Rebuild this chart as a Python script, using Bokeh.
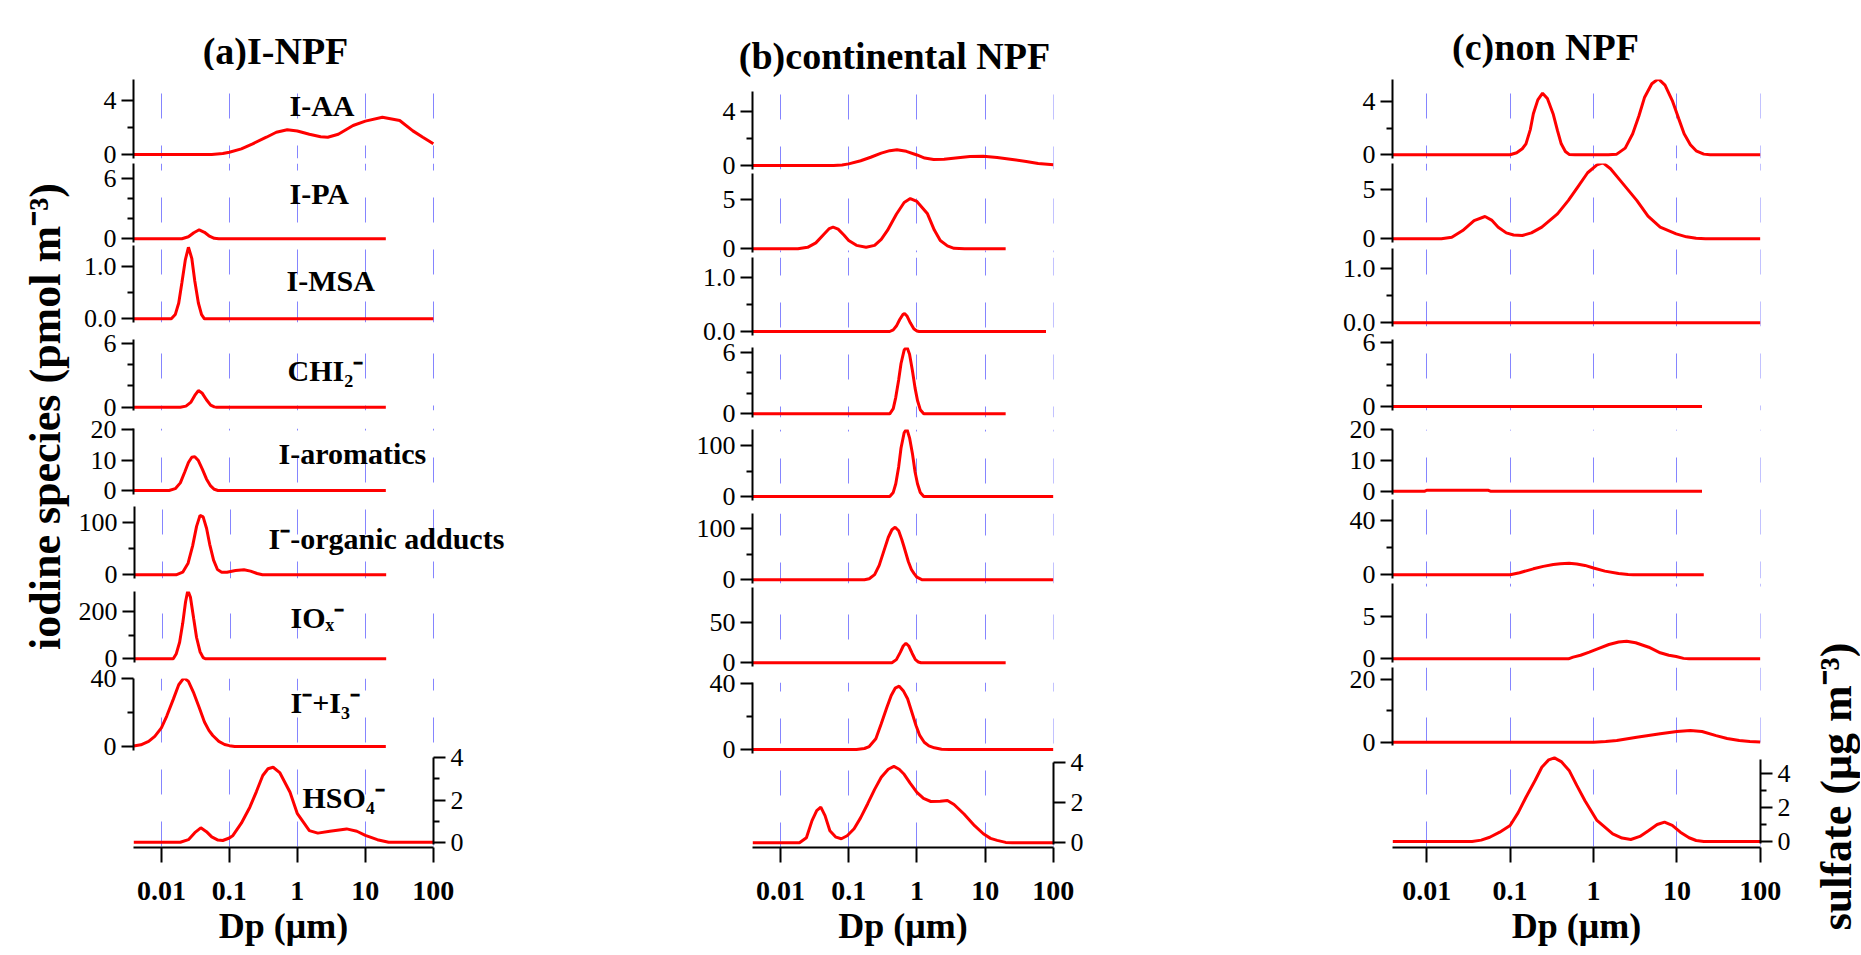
import math
from bokeh.plotting import figure
from bokeh.models import Range1d, LinearAxis, LogAxis, FixedTicker, Grid, Label
from bokeh.layouts import column, row
from bokeh.embed import file_html
from bokeh.resources import INLINE

# ------------------------------------------------------------------ data
column_titles = ["(a)I-NPF", "(b)continental NPF", "(c)non NPF"]
species = ["I-AA", "I-PA", "I-MSA", "CHI₂⁻", "I-aromatics",
           "I⁻-organic adducts", "IOₓ⁻", "I⁻+I₃⁻", "HSO₄⁻"]
x_ticks = [0.01, 0.1, 1, 10, 100]
x_tick_labels = ["0.01", "0.1", "1", "10", "100"]
x_label = "Dp (μm)"
y_label_left = "iodine species (pmol m⁻³)"
y_label_right = "sulfate (μg m⁻³)"

# (a) I-NPF
a_iaa_dp = [0.0039, 0.055, 0.08, 0.1, 0.15, 0.22, 0.35, 0.49, 0.71, 1.0, 1.5, 2.2, 2.8, 4.0, 6.6, 10, 17.8, 32, 50, 70, 100]
a_iaa_v = [0, 0, 0.07, 0.17, 0.42, 0.79, 1.28, 1.65, 1.83, 1.74, 1.5, 1.32, 1.28, 1.5, 2.15, 2.47, 2.76, 2.52, 1.75, 1.28, 0.79]
a_ipa_dp = [0.0039, 0.02, 0.025, 0.03, 0.036, 0.043, 0.05, 0.06, 0.07, 20]
a_ipa_v = [0, 0, 0.2, 0.6, 0.9, 0.65, 0.3, 0.05, 0, 0]
a_imsa_dp = [0.0039, 0.014, 0.016, 0.018, 0.02, 0.0225, 0.025, 0.028, 0.031, 0.035, 0.039, 0.043, 100]
a_imsa_v = [0, 0, 0.08, 0.3, 0.68, 1.12, 1.36, 1.15, 0.72, 0.3, 0.08, 0, 0]
a_chi2_dp = [0.0039, 0.019, 0.023, 0.027, 0.031, 0.035, 0.04, 0.046, 0.053, 0.06, 0.065, 20]
a_chi2_v = [0, 0, 0.1, 0.45, 1.1, 1.56, 1.3, 0.7, 0.2, 0.03, 0, 0]
a_arom_dp = [0.0039, 0.013, 0.016, 0.019, 0.022, 0.025, 0.028, 0.031, 0.035, 0.04, 0.046, 0.053, 0.06, 0.068, 20]
a_arom_v = [0, 0, 0.6, 2.5, 6, 9.2, 10.9, 11.1, 9.8, 7, 3.8, 1.5, 0.4, 0, 0]
a_add_dp = [0.0039, 0.016, 0.02, 0.024, 0.028, 0.032, 0.036, 0.04, 0.045, 0.05, 0.057, 0.065, 0.075, 0.09, 0.12, 0.16, 0.2, 0.25, 0.3, 20]
a_add_v = [0, 0, 5, 22, 55, 92, 113, 110, 88, 58, 28, 10, 5, 5, 8, 9.5, 7, 2.5, 0, 0]
a_iox_dp = [0.0039, 0.0145, 0.016, 0.018, 0.02, 0.022, 0.0238, 0.026, 0.029, 0.032, 0.036, 0.04, 0.043, 20]
a_iox_v = [0, 0, 20, 70, 150, 240, 289, 260, 170, 90, 30, 5, 0, 0]
a_ii3_dp = [0.0039, 0.005, 0.0065, 0.008, 0.01, 0.012, 0.015, 0.018, 0.0215, 0.025, 0.03, 0.036, 0.043, 0.05, 0.057, 0.07, 0.085, 0.1, 0.12, 20]
a_ii3_v = [0.3, 1, 3, 6, 11, 18, 28, 36.5, 40.6, 38.5, 31.5, 23, 14.5, 9.5, 6.5, 3, 1.2, 0.5, 0, 0]
a_hso4_dp = [0.0039, 0.019, 0.025, 0.031, 0.038, 0.046, 0.055, 0.068, 0.08, 0.1, 0.113, 0.15, 0.2, 0.25, 0.31, 0.37, 0.44, 0.55, 0.78, 1.0, 1.5, 2.0, 3.0, 5.3, 7.5, 10, 15, 22, 100]
a_hso4_v = [0, 0, 0.12, 0.45, 0.68, 0.5, 0.25, 0.1, 0.08, 0.2, 0.32, 0.9, 1.66, 2.4, 3.16, 3.48, 3.55, 3.3, 2.37, 1.35, 0.55, 0.43, 0.52, 0.63, 0.52, 0.32, 0.12, 0, 0]

# (b) continental NPF
b_iaa_dp = [0.0039, 0.06, 0.08, 0.1, 0.15, 0.21, 0.3, 0.4, 0.51, 0.7, 1.0, 1.3, 1.76, 2.5, 4, 6, 9.4, 15, 25, 40, 60, 100]
b_iaa_v = [0, 0, 0.04, 0.12, 0.35, 0.61, 0.92, 1.1, 1.16, 1.05, 0.78, 0.55, 0.44, 0.46, 0.58, 0.66, 0.69, 0.6, 0.45, 0.3, 0.15, 0.05]
b_ipa_dp = [0.0039, 0.018, 0.025, 0.033, 0.043, 0.052, 0.059, 0.07, 0.085, 0.1, 0.13, 0.18, 0.24, 0.3, 0.37, 0.5, 0.65, 0.8, 1.0, 1.43, 1.8, 2.2, 2.8, 3.5, 5, 20]
b_ipa_v = [0, 0, 0.15, 0.6, 1.45, 2.05, 2.2, 2.0, 1.4, 0.85, 0.35, 0.16, 0.35, 0.95, 1.86, 3.5, 4.7, 5.1, 4.8, 3.55, 1.9, 0.84, 0.3, 0.05, 0, 0]
b_imsa_dp = [0.0039, 0.4, 0.45, 0.5, 0.56, 0.62, 0.66, 0.72, 0.8, 0.9, 1.0, 1.08, 78]
b_imsa_v = [0, 0, 0.03, 0.1, 0.22, 0.31, 0.33, 0.28, 0.16, 0.05, 0.01, 0, 0]
b_chi2_dp = [0.0039, 0.4, 0.45, 0.49, 0.54, 0.585, 0.65, 0.71, 0.78, 0.86, 0.94, 1.02, 1.12, 1.26, 20]
b_chi2_v = [0, 0, 0.5, 1.6, 3.3, 4.9, 6.2, 6.55, 5.8, 4.2, 2.5, 1.3, 0.4, 0, 0]
b_arom_dp = [0.0039, 0.4, 0.45, 0.49, 0.54, 0.585, 0.65, 0.71, 0.78, 0.86, 0.94, 1.02, 1.12, 1.26, 100]
b_arom_v = [0, 0, 8, 25, 58, 95, 125, 133, 115, 84, 48, 25, 8, 0, 0]
b_add_dp = [0.0039, 0.17, 0.2, 0.24, 0.28, 0.33, 0.38, 0.43, 0.48, 0.54, 0.6, 0.65, 0.75, 0.83, 0.91, 1.0, 1.2, 100]
b_add_v = [0, 0, 2, 10, 28, 57, 82, 97, 102, 95, 78, 63, 35, 20, 12, 5, 0, 0]
b_iox_dp = [0.0039, 0.43, 0.5, 0.57, 0.63, 0.69, 0.76, 0.85, 0.95, 1.05, 1.15, 20]
b_iox_v = [0, 0, 4, 13, 21, 24.5, 21, 12, 4, 1, 0, 0]
b_ii3_dp = [0.0039, 0.13, 0.17, 0.2, 0.25, 0.3, 0.36, 0.42, 0.48, 0.55, 0.63, 0.73, 0.85, 0.97, 1.1, 1.28, 1.5, 1.8, 2.3, 3, 100]
b_ii3_v = [0, 0, 0.6, 1.8, 6.5, 15.5, 25, 32.6, 37, 38.2, 35.5, 30.6, 22, 14.5, 8.5, 4.4, 2.2, 1, 0.2, 0, 0]
b_hso4_dp = [0.0039, 0.019, 0.024, 0.029, 0.034, 0.039, 0.045, 0.053, 0.065, 0.078, 0.095, 0.12, 0.15, 0.19, 0.24, 0.3, 0.38, 0.46, 0.55, 0.65, 0.8, 1.0, 1.25, 1.6, 2.2, 2.8, 3.5, 4.9, 7, 9.4, 12, 15, 20, 25, 100]
b_hso4_v = [0, 0, 0.25, 1.1, 1.6, 1.77, 1.35, 0.6, 0.28, 0.2, 0.35, 0.7, 1.25, 1.94, 2.65, 3.25, 3.65, 3.79, 3.65, 3.4, 2.95, 2.5, 2.2, 2.05, 2.06, 2.1, 1.9, 1.43, 0.85, 0.45, 0.22, 0.12, 0.02, 0, 0]

# (c) non NPF
c_iaa_dp = [0.0039, 0.1, 0.12, 0.14, 0.155, 0.175, 0.19, 0.215, 0.245, 0.28, 0.33, 0.37, 0.41, 0.46, 0.51, 0.6, 1.5, 1.9, 2.4, 2.95, 3.5, 4.1, 5.0, 6.0, 7.2, 8.8, 10.5, 12.2, 14.5, 17, 21, 25, 100]
c_iaa_v = [0, 0, 0.15, 0.45, 0.82, 1.9, 3.06, 4.1, 4.6, 4.2, 3.0, 1.8, 0.82, 0.25, 0.03, 0, 0, 0.05, 0.5, 1.57, 2.9, 4.3, 5.3, 5.67, 5.2, 4.05, 2.7, 1.57, 0.75, 0.3, 0.05, 0, 0]
c_ipa_dp = [0.0039, 0.015, 0.02, 0.027, 0.037, 0.05, 0.06, 0.072, 0.09, 0.11, 0.14, 0.18, 0.24, 0.37, 0.5, 0.64, 0.85, 1.1, 1.3, 1.6, 2.1, 3.3, 4.5, 6.3, 9.8, 13, 17, 22, 100]
c_ipa_v = [0, 0, 0.15, 0.84, 1.85, 2.26, 1.9, 1.18, 0.6, 0.38, 0.33, 0.6, 1.18, 2.53, 3.9, 5.2, 6.7, 7.5, 7.7, 7.1, 5.9, 3.9, 2.3, 1.18, 0.5, 0.2, 0.05, 0, 0]
c_imsa_dp = [0.0039, 100]
c_imsa_v = [0, 0]
c_chi2_dp = [0.0039, 20]
c_chi2_v = [0, 0]
c_arom_dp = [0.0039, 0.0095, 0.01, 0.055, 0.058, 20]
c_arom_v = [0, 0, 0.3, 0.3, 0, 0]
c_add_dp = [0.0039, 0.1, 0.13, 0.19, 0.25, 0.33, 0.4, 0.51, 0.63, 0.79, 1.0, 1.37, 2.0, 2.6, 3.0, 21]
c_add_v = [0, 0, 1.5, 4.4, 6.2, 7.6, 8.2, 8.5, 8.0, 6.9, 5.0, 2.7, 1.0, 0.2, 0, 0]
c_iox_dp = [0.0039, 0.5, 0.57, 0.7, 0.89, 1.1, 1.53, 2.0, 2.5, 3.2, 4.6, 6.3, 8, 9.8, 12, 14, 100]
c_iox_v = [0, 0, 0.2, 0.42, 0.78, 1.15, 1.69, 1.98, 2.08, 1.9, 1.37, 0.71, 0.42, 0.27, 0.05, 0, 0]
c_ii3_dp = [0.0039, 1.0, 1.4, 1.9, 3.3, 6.3, 10, 14.5, 20, 29.5, 40, 56, 75, 100]
c_ii3_v = [0, 0, 0.2, 0.54, 1.6, 2.7, 3.4, 3.7, 3.4, 2.1, 1.2, 0.54, 0.2, 0.05]
c_hso4_dp = [0.0039, 0.035, 0.045, 0.057, 0.075, 0.1, 0.125, 0.155, 0.2, 0.24, 0.29, 0.34, 0.41, 0.51, 0.63, 0.79, 1.1, 1.7, 2.2, 2.8, 3.6, 4.6, 5.8, 7.1, 8.8, 11, 14, 17, 21, 100]
c_hso4_v = [0, 0, 0.08, 0.25, 0.55, 0.94, 1.7, 2.6, 3.6, 4.37, 4.8, 4.92, 4.7, 4.18, 3.3, 2.4, 1.24, 0.45, 0.2, 0.12, 0.3, 0.65, 1.0, 1.14, 0.95, 0.55, 0.22, 0.06, 0, 0]

# y-axis ticks per panel
a_yticks = [[0, 4], [0, 6], [0, 1], [0, 6], [0, 10, 20], [0, 100], [0, 200], [0, 40], [0, 2, 4]]
a_yminor = [[2], [2, 4], [0.5], [2, 4], [], [50], [100], [20], [1, 3]]
a_ylabels = [["0", "4"], ["0", "6"], ["0.0", "1.0"], ["0", "6"], ["0", "10", "20"], ["0", "100"], ["0", "200"], ["0", "40"], ["0", "2", "4"]]
b_yticks = [[0, 4], [0, 5], [0, 1], [0, 6], [0, 100], [0, 100], [0, 50], [0, 40], [0, 2, 4]]
b_yminor = [[2], [], [0.5], [2, 4], [50], [50], [], [20], []]
b_ylabels = [["0", "4"], ["0", "5"], ["0.0", "1.0"], ["0", "6"], ["0", "100"], ["0", "100"], ["0", "50"], ["0", "40"], ["0", "2", "4"]]
c_yticks = [[0, 4], [0, 5], [0, 1], [0, 6], [0, 10, 20], [0, 40], [0, 5], [0, 20], [0, 2, 4]]
c_yminor = [[2], [], [0.5], [2, 4], [], [20], [], [10], [1, 3]]
c_ylabels = [["0", "4"], ["0", "5"], ["0.0", "1.0"], ["0", "6"], ["0", "10", "20"], ["0", "40"], ["0", "5"], ["0", "20"], ["0", "2", "4"]]

series_a = [(a_iaa_dp, a_iaa_v), (a_ipa_dp, a_ipa_v), (a_imsa_dp, a_imsa_v), (a_chi2_dp, a_chi2_v), (a_arom_dp, a_arom_v),
            (a_add_dp, a_add_v), (a_iox_dp, a_iox_v), (a_ii3_dp, a_ii3_v), (a_hso4_dp, a_hso4_v)]
series_b = [(b_iaa_dp, b_iaa_v), (b_ipa_dp, b_ipa_v), (b_imsa_dp, b_imsa_v), (b_chi2_dp, b_chi2_v), (b_arom_dp, b_arom_v),
            (b_add_dp, b_add_v), (b_iox_dp, b_iox_v), (b_ii3_dp, b_ii3_v), (b_hso4_dp, b_hso4_v)]
series_c = [(c_iaa_dp, c_iaa_v), (c_ipa_dp, c_ipa_v), (c_imsa_dp, c_imsa_v), (c_chi2_dp, c_chi2_v), (c_arom_dp, c_arom_v),
            (c_add_dp, c_add_v), (c_iox_dp, c_iox_v), (c_ii3_dp, c_ii3_v), (c_hso4_dp, c_hso4_v)]

# ------------------------------------------------------------------ layout / style
FONT = "Liberation Serif"
RED = "#ff0000"
GRID_COLOR = "#8585ff"
XMIN, XMAX = 10 ** -2.41, 100.5
TOP, BOTTOM, PAD = 0, 954, 16
TITLE_H = [70, 82, 70]
DASH, GAP = 25, 27

# panel frames: (top px, zero-line px, px per unit, bottom px)
geom_a = [(79, 154.0, 13.5, 158), (163, 238.3, 10.0, 242), (245, 318.3, 52.6, 322), (339, 406.7, 10.67, 410),
          (428, 490.0, 3.05, 494), (506, 574.3, 0.526, 578), (591, 658.3, 0.2365, 662), (678, 746.0, 1.6925, 750),
          (752, 841.7, 21.1, 847)]
geom_b = [(91, 165.0, 13.5, 169), (173, 248.3, 9.86, 252), (257, 331.0, 54.3, 335), (347, 413.3, 10.27, 417),
          (429, 496.0, 0.51, 500), (513, 579.3, 0.516, 583), (587, 662.3, 0.8, 666), (682, 749.0, 1.6575, 753),
          (755, 842.3, 20.15, 847)]
geom_c = [(79, 154.3, 13.4, 158), (163, 238.3, 9.86, 242), (248, 322.3, 54.6, 326), (339, 406.0, 10.6, 410),
          (429, 490.7, 3.07, 494), (499, 574.3, 1.3575, 578), (583, 658.3, 8.46, 662), (667, 741.7, 3.135, 745),
          (748, 841.0, 17.0, 847)]

LEFT_W, RIGHT_W = 75, 60
COL_W = [617, 640, 468]
COL_LEFT = [75, 692, 1332]
COL_BL = [58, 60, 60]
COL_FW = [300, 301, 368]
COL_EXT = [90, 0, 0]            # invisible extra frame width for the species names (upper panels only)
GRID_Y0 = [93, 94, 93]
HSO4_AXIS_TOP = [4, 4, 4.8]
TITLE_POS = [(275, 50), (894, 55), (1545, 46)]
SPECIES_POS = [(289, 105), (289, 193), (286, 280), (287, 370), (278, 453), (267, 538), (289, 617), (290, 702), (302, 797)]

YAX_STYLE = dict(axis_line_color="black", axis_line_width=2, major_tick_line_color="black", major_tick_line_width=2,
                 minor_tick_line_color="black", minor_tick_line_width=2, major_tick_in=0, major_tick_out=12,
                 minor_tick_in=0, minor_tick_out=6, major_label_standoff=5, major_label_text_font=FONT,
                 major_label_text_font_size="26px", major_label_text_color="black")
XAX_STYLE = dict(axis_line_color="black", axis_line_width=2, major_tick_line_color="black", major_tick_line_width=2,
                 major_tick_in=0, major_tick_out=15, minor_tick_line_color=None, major_label_standoff=19,
                 major_label_text_font=FONT, major_label_text_font_size="28px", major_label_text_font_style="bold",
                 major_label_text_color="black", axis_label_text_font=FONT, axis_label_text_font_size="36px",
                 axis_label_text_font_style="bold", axis_label_standoff=3, axis_label_text_color="black")


def blank_fig(width, height):
    p = figure(width=width, height=height, x_range=Range1d(0, 1), y_range=Range1d(0, 1),
               x_axis_location=None, y_axis_location=None, title=None, toolbar_location=None,
               output_backend="svg", min_border=0, background_fill_color=None,
               border_fill_color=None, outline_line_color=None, frame_align=False)
    p.center = [c for c in p.center if not isinstance(c, Grid)]
    return p


def build_column(ci, series, geom, yticks, yminor, ylabels):
    W, BL, FW = COL_W[ci], COL_BL[ci], COL_FW[ci]
    th = TITLE_H[ci]
    lmin, lmax = math.log10(XMIN), math.log10(XMAX)
    strip = blank_fig(W, th)
    tx, ty = TITLE_POS[ci]
    strip.add_layout(Label(x=tx - COL_LEFT[ci], y=th - ty, x_units="screen", y_units="screen",
                           text=column_titles[ci], text_align="center", text_baseline="alphabetic",
                           text_font=FONT, text_font_size="38px", text_font_style="bold", text_color="black"))
    figs = [strip]
    prev_bottom = th
    n = len(geom)
    for k, ((top, zero, scale, bot), (dp, val)) in enumerate(zip(geom, series)):
        last = (k == n - 1)
        fw = FW if last else FW + COL_EXT[ci]
        xend = 10 ** (lmin + fw * (lmax - lmin) / FW)
        ctop = top - PAD
        cbot = BOTTOM if last else bot + PAD
        p = figure(width=W, height=cbot - ctop, x_axis_type="log",
                   x_range=Range1d(XMIN, xend),
                   y_range=Range1d(-(bot - zero) / scale, (zero - top) / scale),
                   x_axis_location=None, y_axis_location=None, title=None,
                   toolbar_location=None, output_backend="svg",
                   min_border_left=BL, min_border_right=W - BL - fw,
                   min_border_top=top - ctop, min_border_bottom=cbot - bot,
                   background_fill_color=None, border_fill_color=None,
                   outline_line_color=None, frame_align=False)
        p.center = [c for c in p.center if not isinstance(c, Grid)]
        p.margin = (int(ctop - prev_bottom), 0, 0, 0)
        prev_bottom = cbot
        off = (DASH - (bot - GRID_Y0[ci])) % (DASH + GAP)
        p.add_layout(Grid(dimension=0, ticker=FixedTicker(ticks=x_ticks), grid_line_color=GRID_COLOR,
                          grid_line_width=1, grid_line_dash=f"{DASH} {GAP}",
                          grid_line_dash_offset=int(round(off))))
        p.line(dp, val, line_color=RED, line_width=3)
        yax = LinearAxis(ticker=FixedTicker(ticks=yticks[k], minor_ticks=yminor[k]),
                         major_label_overrides=dict(zip(yticks[k], ylabels[k])), **YAX_STYLE)
        if last:
            yax.bounds = (-0.1, HSO4_AXIS_TOP[ci])
            p.add_layout(yax, "right")
            xax = LogAxis(ticker=FixedTicker(ticks=x_ticks, minor_ticks=[]),
                          major_label_overrides=dict(zip(x_ticks, x_tick_labels)),
                          axis_label=x_label, **XAX_STYLE)
            p.add_layout(xax, "below")
        else:
            p.add_layout(yax, "left")
        figs.append(p)
    return figs


figs_a = build_column(0, series_a, geom_a, a_yticks, a_yminor, a_ylabels)
figs_b = build_column(1, series_b, geom_b, b_yticks, b_yminor, b_ylabels)
figs_c = build_column(2, series_c, geom_c, c_yticks, c_yminor, c_ylabels)

# species names in column (a)
frame_left_a = COL_LEFT[0] + COL_BL[0]
for k, name in enumerate(species):
    lx, ly = SPECIES_POS[k]
    bot = geom_a[k][3]
    figs_a[k + 1].add_layout(Label(x=lx - frame_left_a, y=bot - ly, x_units="screen", y_units="screen",
                                   text=name, text_align="left", text_baseline="middle", text_font=FONT,
                                   text_font_size="30px", text_font_style="bold", text_color="black"))


def side_label(width, text, mid_x, center_y):
    p = blank_fig(width, BOTTOM - TOP)
    p.add_layout(Label(x=mid_x, y=BOTTOM - center_y, x_units="screen", y_units="screen", text=text,
                       angle=math.pi / 2, text_align="center", text_baseline="middle",
                       text_font=FONT, text_font_size="44px", text_font_style="bold", text_color="black"))
    return p


left_fig = side_label(LEFT_W, y_label_left, 45, 416)
right_fig = side_label(RIGHT_W, y_label_right, 36, 786)

layout = row(left_fig, column(*figs_a), column(*figs_b), column(*figs_c), right_fig)

open("out.html", "w").write(file_html(layout, INLINE))
